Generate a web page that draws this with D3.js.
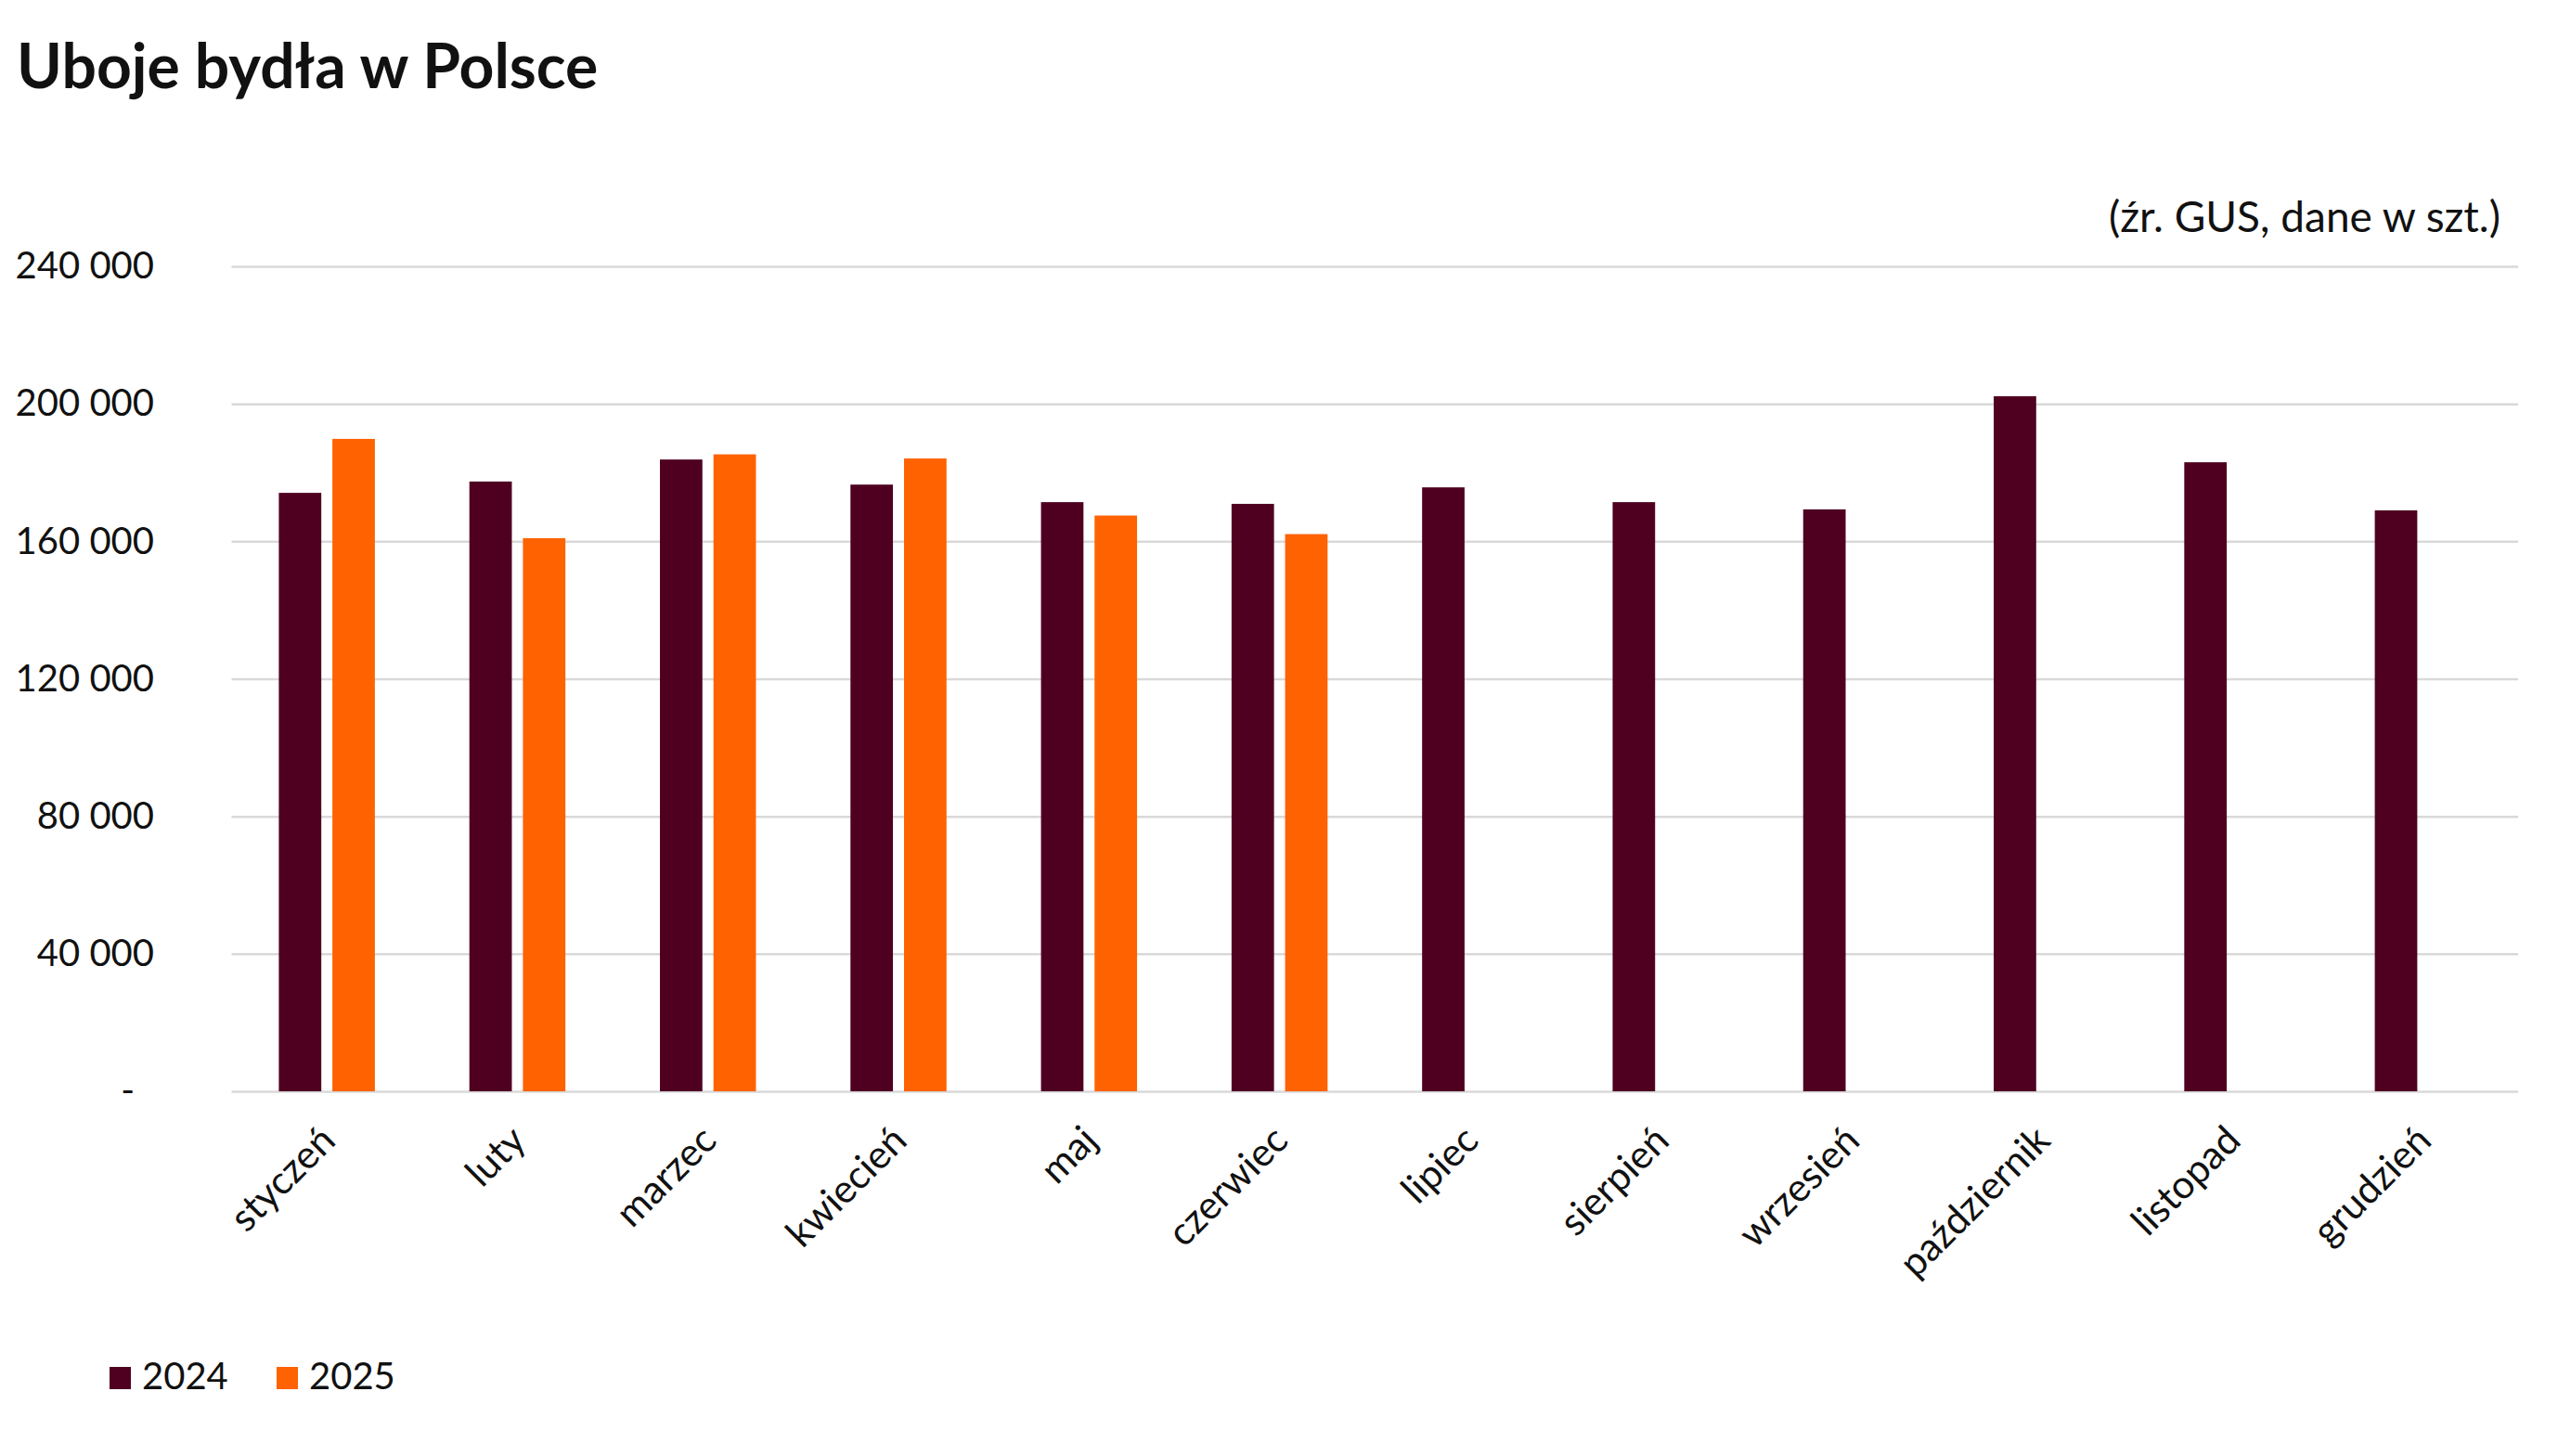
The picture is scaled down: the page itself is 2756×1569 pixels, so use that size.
<!DOCTYPE html>
<html>
<head>
<meta charset="utf-8">
<script src="https://cdn.jsdelivr.net/npm/d3@7"></script>
<style>
  body { margin: 0; background: #fff; }
  text { font-family: Lato, "Noto Sans", sans-serif; fill: #111; }
</style>
</head>
<body>
<div id="chart"></div>
<script>
// data
const months = ["styczeń", "luty", "marzec", "kwiecień", "maj", "czerwiec",
    "lipiec", "sierpień", "wrzesień", "październik", "listopad", "grudzień"];
const seriesNames = ["2024", "2025"];
const values2024 = [174100, 177400, 183800, 176500, 171400, 170900,
    175700, 171400, 169300, 202200, 183000, 169000];
const values2025 = [189800, 160900, 185300, 184100, 167500, 162100];
const yTicks = [0, 40000, 80000, 120000, 160000, 200000, 240000];
const colors = ["#4f0021", "#ff6200"];

const width = 2756;
const height = 1569;
const plotLeft = 249.5, plotRight = 2713, plotTop = 287, plotBottom = 1176;

const svg = d3.select("#chart")
    .append("svg")
    .attr("width", width)
    .attr("height", height);

const x0 = d3.scaleBand()
    .domain(months)
    .range([plotLeft, plotRight])
    .paddingInner(0.496)
    .paddingOuter(0.248);

const x1 = d3.scaleBand()
    .domain(seriesNames)
    .range([0, x0.bandwidth()])
    .paddingInner(0.207);

const y = d3.scaleLinear()
    .domain([0, 240000])
    .range([plotBottom, plotTop]);

const fmt = d => d3.format(",")(d).replace(/,/g, " ");

// title and source note
svg.append("text")
    .attr("x", 18)
    .attr("y", 95)
    .attr("font-size", 66)
    .attr("font-weight", "bold")
    .text("Uboje bydła w Polsce");

svg.append("text")
    .attr("x", 2694)
    .attr("y", 250)
    .attr("font-size", 46)
    .attr("text-anchor", "end")
    .text("(źr. GUS, dane w szt.)");

// y axis with gridlines
const yAxis = svg.append("g")
    .attr("transform", `translate(${plotLeft},0)`)
    .call(d3.axisLeft(y)
        .tickValues(yTicks)
        .tickSize(-(plotRight - plotLeft))
        .tickPadding(plotLeft - 166)
        .tickFormat(d => d === 0 ? "-" : fmt(d)));

yAxis.select(".domain").remove();
yAxis.selectAll(".tick line")
    .attr("stroke", "#d9d9d9")
    .attr("stroke-width", 2.5);
yAxis.selectAll(".tick text")
    .attr("font-size", 40)
    .attr("font-family", "Lato, 'Noto Sans', sans-serif")
    .attr("fill", "#111")
    .attr("x", d => d === 0 ? -(plotLeft - 145) : -(plotLeft - 166));

// bars
const rows = months.map((m, i) => ({
    month: m,
    vals: [
        { key: "2024", value: values2024[i] },
        { key: "2025", value: values2025[i] }
    ].filter(v => v.value !== undefined)
}));

const groups = svg.append("g")
    .selectAll("g")
    .data(rows)
    .enter()
    .append("g")
    .attr("transform", d => `translate(${x0(d.month)},0)`);

groups.selectAll("rect")
    .data(d => d.vals)
    .enter()
    .append("rect")
    .attr("x", d => x1(d.key))
    .attr("y", d => y(d.value))
    .attr("width", x1.bandwidth())
    .attr("height", d => y(0) - y(d.value))
    .attr("fill", d => colors[seriesNames.indexOf(d.key)]);

// x axis labels, rotated
const xAxis = svg.append("g")
    .attr("transform", `translate(0,${plotBottom})`)
    .call(d3.axisBottom(x0).tickSize(0));

xAxis.select(".domain").remove();
xAxis.selectAll(".tick text")
    .attr("font-size", 42)
    .attr("font-family", "Lato, 'Noto Sans', sans-serif")
    .attr("fill", "#111")
    .attr("y", 0)
    .attr("dy", "0.35em")
    .attr("text-anchor", "end")
    .attr("transform", "translate(1,45) rotate(-45)");

// legend
const legend = svg.append("g");
const legendX = [118, 298];
seriesNames.forEach((s, i) => {
    legend.append("rect")
        .attr("x", legendX[i])
        .attr("y", 1473)
        .attr("width", 23)
        .attr("height", 24)
        .attr("fill", colors[i]);
    legend.append("text")
        .attr("x", legendX[i] + 35)
        .attr("y", 1497)
        .attr("font-size", 40)
        .text(s);
});
</script>
</body>
</html>
